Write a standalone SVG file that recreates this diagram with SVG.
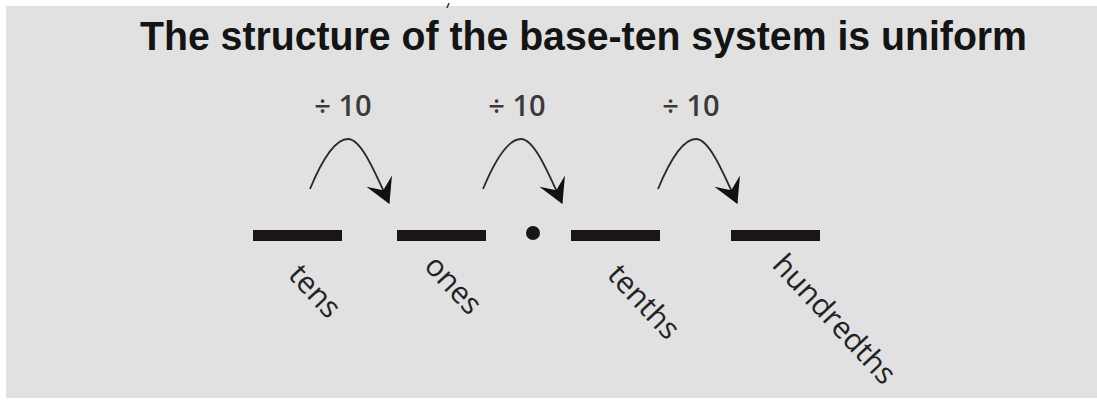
<svg xmlns="http://www.w3.org/2000/svg" width="1097" height="404" viewBox="0 0 1097 404">
<style>
.bar{fill:#1a1518}
.lbl{font-family:"Open Sans","Noto Sans",sans-serif;font-size:30px;fill:#232326}
.op{font-family:"Open Sans","Noto Sans",sans-serif;font-size:29px;font-weight:600;fill:#3a3a3a;text-anchor:middle}
.arc{fill:none;stroke:#2b2b2b;stroke-width:1.8;marker-end:url(#ah)}
</style>
<defs>
<marker id="ah" markerUnits="userSpaceOnUse" markerWidth="30" markerHeight="30" viewBox="-26 -15 28 30" refX="0" refY="0" orient="auto">
<path d="M1,0 L-24,-14 L-14,0 L-24,14 Z" fill="#111"/>
</marker>
</defs>
<rect width="1097" height="404" fill="#ffffff"/>
<rect x="6" y="6" width="1091" height="392" fill="#e1e1e1"/>
<line x1="447" y1="8" x2="449" y2="3" stroke="#333" stroke-width="1.5"/>
<text id="title" x="140" y="50" font-family="'Liberation Sans',Arial,sans-serif" font-weight="bold" font-size="41" fill="#141414" textLength="887" lengthAdjust="spacingAndGlyphs">The structure of the base-ten system is uniform</text>
<g id="connectors">
<path class="arc" d="M310,189 C322,160 335,139 348,139 C360,139 372,165 389,203"/>
<path class="arc" transform="translate(173,0)" d="M310,189 C322,160 335,139 348,139 C360,139 372,165 389,203"/>
<path class="arc" transform="translate(348,0)" d="M310,189 C322,160 335,139 348,139 C360,139 372,165 389,203"/>
<text class="op" x="343" y="116">÷ 10</text>
<text class="op" x="517" y="116">÷ 10</text>
<text class="op" x="691" y="116">÷ 10</text>
</g>
<g id="tens">
<rect class="bar" x="253" y="230" width="89" height="11"/>
<text class="lbl" transform="translate(287,276) rotate(47)">tens</text>
</g>
<g id="ones">
<rect class="bar" x="397" y="230" width="89" height="11"/>
<text class="lbl" transform="translate(423,267) rotate(47)">ones</text>
</g>
<g id="point">
<circle cx="533" cy="233" r="7" fill="#1a1518"/>
</g>
<g id="tenths">
<rect class="bar" x="571" y="230" width="89" height="11"/>
<text class="lbl" transform="translate(606,276) rotate(47)">tenths</text>
</g>
<g id="hundredths">
<rect class="bar" x="731" y="230" width="89" height="11"/>
<text class="lbl" transform="translate(771,266) rotate(47)">hundredths</text>
</g>
</svg>
